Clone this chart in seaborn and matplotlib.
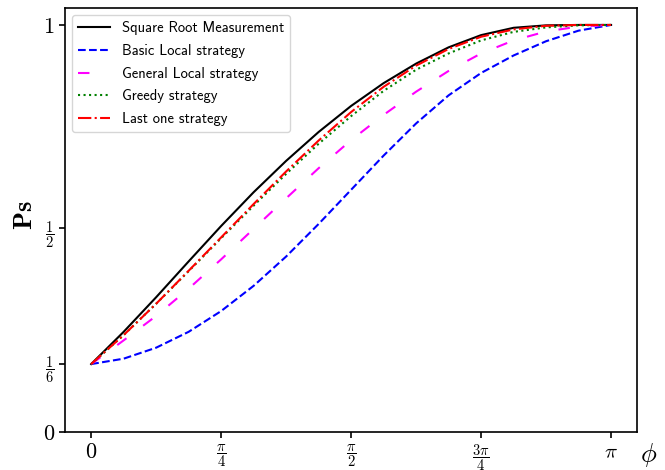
import numpy as np
import pandas as pd
import matplotlib as mpl
import matplotlib.pyplot as plt
import seaborn as sns

mpl.rcParams['mathtext.fontset'] = 'cm'

# phi sampled at k*pi/16, k = 0..16
phi = np.arange(17) * np.pi / 16

# success probabilities
srm = [0.1667, 0.246, 0.331, 0.419, 0.506, 0.589, 0.666, 0.737, 0.801,
       0.857, 0.905, 0.945, 0.975, 0.993, 0.999, 1.0, 1.0]
basic_local = [0.1667, 0.180, 0.207, 0.246, 0.297, 0.359, 0.431, 0.511, 0.595,
               0.679, 0.758, 0.827, 0.882, 0.925, 0.960, 0.986, 1.0]
general_local = [0.1667, 0.225, 0.285, 0.352, 0.424, 0.499, 0.574, 0.648, 0.717,
                 0.779, 0.836, 0.887, 0.930, 0.962, 0.984, 0.996, 1.0]
greedy = [0.1667, 0.238, 0.315, 0.395, 0.476, 0.556, 0.634, 0.708, 0.776,
          0.838, 0.890, 0.930, 0.962, 0.983, 0.994, 0.999, 1.0]
last_one = [0.1667, 0.238, 0.315, 0.396, 0.478, 0.560, 0.640, 0.716, 0.786,
            0.848, 0.900, 0.941, 0.971, 0.989, 0.998, 1.0, 1.0]

xtick_labels = [r'$0$', r'$\dfrac{\pi}{4}$', r'$\dfrac{\pi}{2}$',
                r'$\dfrac{3\pi}{4}$', r'$\pi$']
ytick_labels = [r'$0$', r'$\dfrac{1}{6}$', r'$\dfrac{1}{2}$', r'$1$']

series = [
    ('Square Root Measurement', srm, 'k', '-'),
    ('Basic Local strategy', basic_local, 'b', '--'),
    ('General Local strategy', general_local, 'magenta', (0, (5.5, 10))),
    ('Greedy strategy', greedy, 'g', ':'),
    ('Last one strategy', last_one, 'r', '-.'),
]

fig = plt.figure(figsize=(6.65, 4.7), dpi=100)
ax = fig.add_axes([0.098, 0.081, 0.86, 0.902])

for name, vals, col, ls in series:
    sns.lineplot(x=phi, y=vals, color=col, linestyle=ls, linewidth=1.5,
                 label=name, errorbar=None, ax=ax)

ax.set_ylim(0, None)
ax.set_xticks([0, np.pi / 4, np.pi / 2, 3 * np.pi / 4, np.pi])
ax.set_xticklabels(xtick_labels)
ax.set_yticks([0, 1 / 6, 1 / 2, 1])
ax.set_yticklabels(ytick_labels)

for lab in ax.get_xticklabels() + ax.get_yticklabels():
    t = lab.get_text()
    if t in ('$0$', '$1$'):
        lab.set_fontsize(16)
    elif 'dfrac' in t:
        lab.set_fontsize(10.5)
    else:
        lab.set_fontsize(15)

for sp in ax.spines.values():
    sp.set_linewidth(1.2)
ax.tick_params(width=1.2, length=4)

ax.set_xlabel(r'$\phi$', fontsize=19, va='center')
ax.xaxis.set_label_coords(1.02, -0.055)
ax.set_ylabel(r'$\mathbf{Ps}$', fontsize=19, va='center')
ax.yaxis.set_label_coords(-0.07, 0.51)

ax.legend(loc='upper left', prop={'family': 'cmss10', 'size': 10.5},
          handlelength=2.2, labelspacing=0.6)

fig.savefig('out.png', dpi=100)
